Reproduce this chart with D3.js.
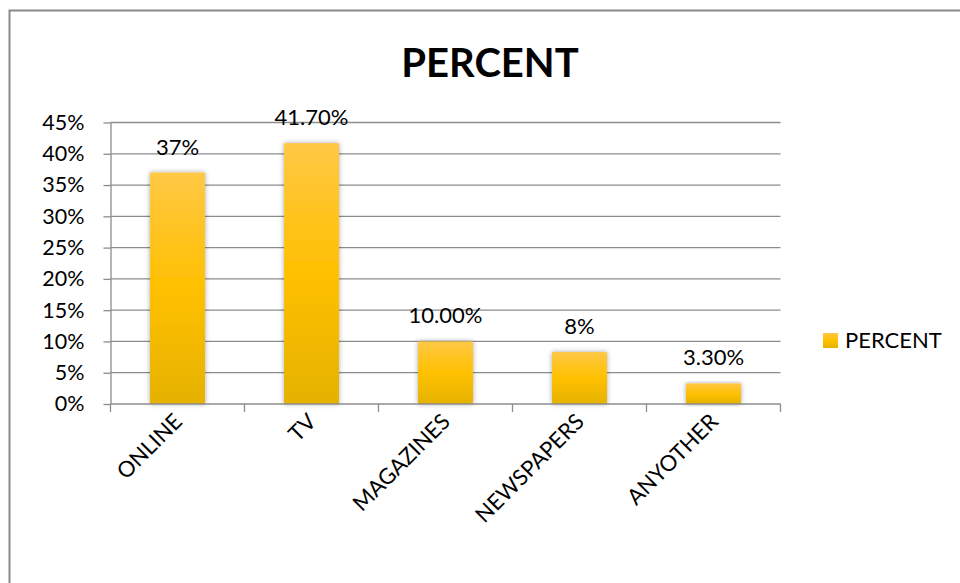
<!DOCTYPE html>
<html>
<head>
<meta charset="utf-8">
<script src="https://cdn.jsdelivr.net/npm/d3@7"></script>
<style>
body { margin: 0; background: #fff; overflow: hidden; }
text { font-family: Lato, "Open Sans", "Liberation Sans", sans-serif; fill: #000; }
</style>
</head>
<body>
<script>
// chart data
let categories = ["ONLINE", "TV", "MAGAZINES", "NEWSPAPERS", "ANYOTHER"];
let percent = [37, 41.7, 10, 8.3, 3.3];
let valueLabels = ["37%", "41.70%", "10.00%", "8%", "3.30%"];
let yTicks = [0, 5, 10, 15, 20, 25, 30, 35, 40, 45];
let seriesName = "PERCENT";

let width = 960,
    height = 583,
    margin = {top: 122.5, left: 110.5};
let innerWidth = 670,
    innerHeight = 281.5;

let svg = d3.select("body").append("svg").attr("width", width).attr("height", height);

// bar gradient + shadow
let defs = svg.append("defs");
let grad = defs.append("linearGradient").attr("id", "barGrad")
    .attr("x1", 0).attr("y1", 0).attr("x2", 0).attr("y2", 1);
grad.append("stop").attr("offset", "0%").attr("stop-color", "#ffc845");
grad.append("stop").attr("offset", "50%").attr("stop-color", "#ffc000");
grad.append("stop").attr("offset", "100%").attr("stop-color", "#e5b200");
let filt = defs.append("filter").attr("id", "shadow")
    .attr("x", "-30%").attr("y", "-10%").attr("width", "160%").attr("height", "120%");
filt.append("feDropShadow").attr("dx", 0).attr("dy", 0).attr("stdDeviation", 2.5)
    .attr("flood-color", "#000").attr("flood-opacity", 0.35);

// outer frame
svg.append("rect").attr("x", 9.5).attr("y", 10.5).attr("width", 960).attr("height", 590)
    .attr("fill", "none").attr("stroke", "#8a8a8a").attr("stroke-width", 2);

svg.append("text").attr("x", 490).attr("y", 77).attr("text-anchor", "middle")
    .style("font-size", "40px").style("font-weight", "bold").text("PERCENT");

let g = svg.append("g").attr("transform", "translate(" + margin.left + "," + margin.top + ")");

let x = d3.scaleBand().domain(categories).range([0, innerWidth]).paddingInner(0.59).paddingOuter(0.295);
let y = d3.scaleLinear().domain([0, 45]).range([innerHeight, 0]);

// gridlines
g.selectAll(".grid").data(yTicks.slice(1)).enter().append("line")
    .attr("x1", 0).attr("x2", innerWidth)
    .attr("y1", d => y(d)).attr("y2", d => y(d))
    .attr("stroke", "#8c8c8c").attr("stroke-width", 1.3);

// y axis
let yAxis = g.append("g").call(d3.axisLeft(y).tickValues(yTicks).tickFormat(d => d + "%").tickSize(7).tickPadding(19));
yAxis.selectAll("line").attr("stroke", "#8c8c8c").attr("stroke-width", 1.3);
yAxis.select(".domain").attr("stroke", "#8c8c8c").attr("stroke-width", 1.3).attr("d", "M0.5,0V" + innerHeight);
yAxis.selectAll("text").style("font-size", "21.5px").style("font-family", "Lato, 'Open Sans', sans-serif").attr("fill", "#000");

// bars
g.selectAll(".bar").data(percent).enter().append("rect")
    .attr("x", (d, i) => x(categories[i]))
    .attr("y", d => y(d))
    .attr("width", x.bandwidth())
    .attr("height", d => innerHeight - y(d))
    .attr("fill", "url(#barGrad)")
    .attr("filter", "url(#shadow)");

// x axis
let step = x.step();
let xa = g.append("g").attr("transform", "translate(0," + innerHeight + ")");
xa.append("line").attr("x1", 0).attr("x2", innerWidth).attr("stroke", "#8c8c8c").attr("stroke-width", 1.3);
xa.selectAll(".xt").data(d3.range(categories.length + 1)).enter().append("line")
    .attr("x1", d => d * step).attr("x2", d => d * step).attr("y1", 0).attr("y2", 8)
    .attr("stroke", "#8c8c8c").attr("stroke-width", 1.3);
xa.selectAll(".xl").data(categories).enter().append("text")
    .attr("transform", d => "translate(" + (x(d) + x.bandwidth() / 2 + 6) + ",19) rotate(-45)")
    .attr("text-anchor", "end").style("font-size", "22px").text(d => d);

// value labels
g.selectAll(".vl").data(percent).enter().append("text")
    .attr("x", (d, i) => x(categories[i]) + x.bandwidth() / 2)
    .attr("y", d => y(d) - 18)
    .attr("text-anchor", "middle").style("font-size", "22px")
    .text((d, i) => valueLabels[i]);

// legend
let lg = svg.append("g").attr("transform", "translate(823,333)");
lg.append("rect").attr("width", 15).attr("height", 15).attr("fill", "url(#barGrad)");
lg.append("text").attr("x", 22).attr("y", 15).style("font-size", "22px").text(seriesName);
</script>
</body>
</html>
